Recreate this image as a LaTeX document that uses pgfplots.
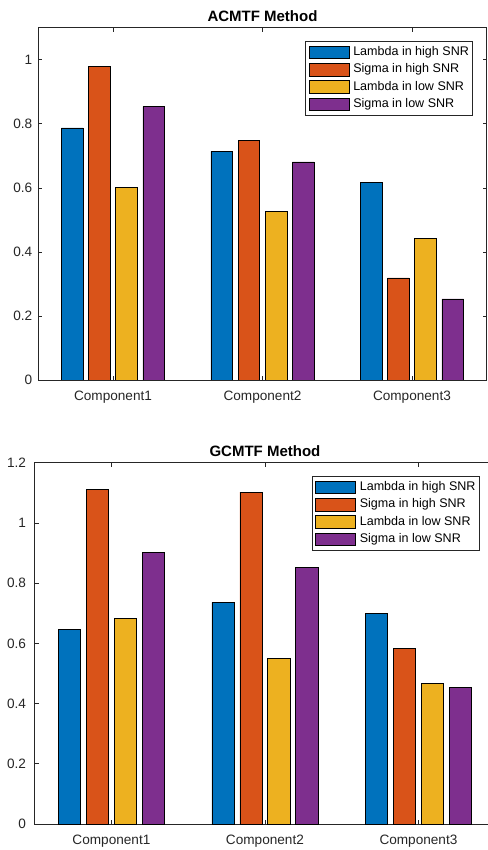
\documentclass[border=0pt]{standalone}
\usepackage{pgfplots}
\pgfplotsset{compat=1.18}
\usepackage{fontspec}
\setmainfont{Liberation Sans}
\definecolor{mblue}{HTML}{0072BD}
\definecolor{morange}{HTML}{D95319}
\definecolor{myellow}{HTML}{EDB120}
\definecolor{mpurple}{HTML}{7E2F8E}
\definecolor{axgray}{HTML}{262626}
\pgfplotsset{
  mybars/.style={
    scale only axis,
    xmin=0.5, xmax=3.5, ymin=0,
    xtick={1,2,3},
    xticklabels={Component1,Component2,Component3},
    /pgf/number format/assume math mode=true,
    tick label style={font=\fontsize{10.2}{12}\selectfont, text=axgray},
    xticklabel style={anchor=base, yshift=-15.5pt},
    title style={anchor=base, yshift=-1.2pt, font=\bfseries\fontsize{11.25}{13}\selectfont},
    axis line style={axgray, line width=0.5pt},
    major tick style={axgray, line width=0.5pt},
    major tick length=3pt,
    tick align=inside,
    bar width=0.145,
    legend cell align=left,
    legend image code/.code={\draw[#1] (0pt,-4.75pt) rectangle (29.8pt,4.75pt);},
    legend style={draw=axgray, line width=0.5pt, fill=white,
      font=\fontsize{9.4}{11}\selectfont, row sep=3.0pt,
      /tikz/every odd column/.append style={column sep=3pt},
      inner xsep=2.6pt, inner ysep=3.2pt,
      nodes={inner xsep=0pt, inner ysep=0pt, text height=6.7pt, text depth=1.9pt}},
  },
  b1/.style={ybar, bar shift=-0.2727, fill=mblue, draw=black, line width=0.5pt},
  b2/.style={ybar, bar shift=-0.0909, fill=morange, draw=black, line width=0.5pt},
  b3/.style={ybar, bar shift=0.0909, fill=myellow, draw=black, line width=0.5pt},
  b4/.style={ybar, bar shift=0.2727, fill=mpurple, draw=black, line width=0.5pt},
}
\begin{document}
\begin{tikzpicture}
\useasboundingbox (0,0) rectangle (366pt,637.5pt);
\clip (0,0) rectangle (366pt,637.5pt);
% top
\begin{axis}[mybars,
  at={(28.725pt,352.5pt)}, anchor=south west,
  width=336.3pt, height=264.2pt,
  ymax=1.1, ytick={0,0.2,0.4,0.6,0.8,1},
  yticklabel style={xshift=-1pt},
  title={ACMTF Method},
  legend style={at={(0.9688,0.9623)}, anchor=north east},
]
\addplot[b1] coordinates {(1,0.787) (2,0.714) (3,0.618)};
\addplot[b2] coordinates {(1,0.979) (2,0.747) (3,0.319)};
\addplot[b3] coordinates {(1,0.602) (2,0.527) (3,0.441)};
\addplot[b4] coordinates {(1,0.854) (2,0.681) (3,0.253)};
\legend{Lambda in high SNR, Sigma in high SNR, Lambda in low SNR, Sigma in low SNR}
\end{axis}
% bottom
\begin{axis}[mybars,
  at={(26.0pt,19.5pt)}, anchor=south west,
  width=345.4pt, height=271.0pt,
  ymax=1.2, ytick={0,0.2,0.4,0.6,0.8,1,1.2},
  yticklabel style={xshift=-3pt},
  title={GCMTF Method},
  legend style={at={(0.9655,0.9632)}, anchor=north east},
]
\addplot[b1] coordinates {(1,0.647) (2,0.736) (3,0.700)};
\addplot[b2] coordinates {(1,1.112) (2,1.102) (3,0.584)};
\addplot[b3] coordinates {(1,0.683) (2,0.550) (3,0.466)};
\addplot[b4] coordinates {(1,0.902) (2,0.852) (3,0.453)};
\legend{Lambda in high SNR, Sigma in high SNR, Lambda in low SNR, Sigma in low SNR}
\end{axis}
\end{tikzpicture}
\end{document}
